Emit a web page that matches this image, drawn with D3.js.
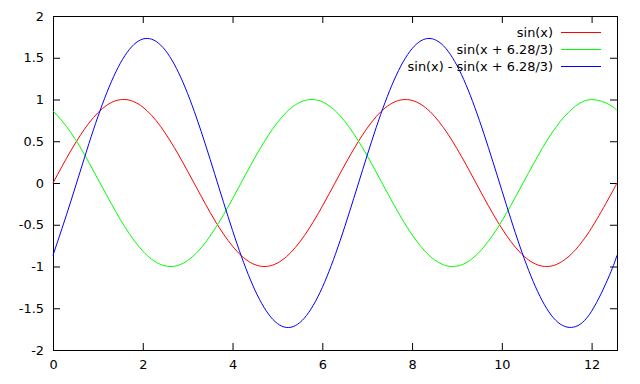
<!DOCTYPE html>
<html>
<head>
<meta charset="utf-8">
<script src="https://cdn.jsdelivr.net/npm/d3@7"></script>
<style>
  body { margin: 0; background: #fff; }
  text { font-family: "DejaVu Sans", sans-serif; font-size: 12.9px; fill: #000; }
</style>
</head>
<body>
<svg id="chart" width="640" height="384"></svg>
<script>
// sample points
const xs = [0, 0.4, 0.8, 1.2, 1.6, 2.0, 2.4, 2.8, 3.2, 3.6, 4.0, 4.4, 4.8, 5.2, 5.6, 6.0,
    6.4, 6.8, 7.2, 7.6, 8.0, 8.4, 8.8, 9.2, 9.6, 10.0, 10.4, 10.8, 11.2, 11.6, 12.0, 12.4, 12.566];
const sinVals = [0, 0.389, 0.717, 0.932, 1.0, 0.909, 0.675, 0.335, -0.058, -0.443, -0.757, -0.952,
    -0.996, -0.883, -0.631, -0.279, 0.117, 0.494, 0.794, 0.968, 0.989, 0.855, 0.585, 0.223,
    -0.175, -0.544, -0.828, -0.981, -0.979, -0.823, -0.537, -0.166, 0];
const shiftVals = [0.866, 0.604, 0.246, -0.151, -0.524, -0.815, -0.976, -0.984, -0.836, -0.556,
    -0.189, 0.209, 0.573, 0.847, 0.987, 0.972, 0.803, 0.507, 0.131, -0.265, -0.620, -0.876,
    -0.995, -0.956, -0.766, -0.456, -0.073, 0.321, 0.665, 0.903, 0.999, 0.937, 0.866];
const diffVals = [-0.866, -0.215, 0.471, 1.083, 1.524, 1.724, 1.651, 1.319, 0.778, 0.113, -0.568,
    -1.161, -1.569, -1.730, -1.618, -1.251, -0.686, -0.013, 0.663, 1.233, 1.609, 1.731, 1.580,
    1.179, 0.591, -0.088, -0.755, -1.302, -1.644, -1.726, -1.536, -1.103, -0.866];

const seriesNames = ["sin(x)", "sin(x + 6.28/3)", "sin(x) - sin(x + 6.28/3)"];
const seriesColors = ["#ff0000", "#00ff00", "#0000ff"];
const xTicks = [0, 2, 4, 6, 8, 10, 12];
const yTicks = [-2, -1.5, -1, -0.5, 0, 0.5, 1, 1.5, 2];

const margin = {left: 53, right: 23, top: 16, bottom: 34};
const width = 640, height = 384;

const svg = d3.select("#chart");

const x = d3.scaleLinear().domain([0, 12.566]).range([margin.left, width - margin.right]);
const y = d3.scaleLinear().domain([-2, 2]).range([height - margin.bottom, margin.top]);

const tick = 7;
const fmt = d => String(d);

// axes, ticks point inward (gnuplot style) and are mirrored
svg.append("g")
    .attr("transform", `translate(0,${height - margin.bottom})`)
    .call(d3.axisBottom(x).tickValues(xTicks).tickFormat(fmt).tickSizeInner(-tick).tickSizeOuter(0).tickPadding(10))
    .call(g => g.select(".domain").remove());
svg.append("g")
    .attr("transform", `translate(0,${margin.top})`)
    .call(d3.axisTop(x).tickValues(xTicks).tickSizeInner(-tick).tickSizeOuter(0).tickFormat(""))
    .call(g => g.select(".domain").remove());
svg.append("g")
    .attr("transform", `translate(${margin.left},0)`)
    .call(d3.axisLeft(y).tickValues(yTicks).tickFormat(fmt).tickSizeInner(-tick).tickSizeOuter(0).tickPadding(9))
    .call(g => g.select(".domain").remove());
svg.append("g")
    .attr("transform", `translate(${width - margin.right},0)`)
    .call(d3.axisRight(y).tickValues(yTicks).tickSizeInner(-tick).tickSizeOuter(0).tickFormat(""))
    .call(g => g.select(".domain").remove());

svg.selectAll(".tick text")
    .attr("font-family", null)
    .attr("font-size", null);

svg.append("rect")
    .attr("x", x(0) + 0.5)
    .attr("y", y(2) + 0.5)
    .attr("width", x(12.566) - x(0))
    .attr("height", y(-2) - y(2))
    .attr("fill", "none")
    .attr("stroke", "#000");

const line = d3.line()
    .x((d, i) => x(xs[i]))
    .y(d => y(d))
    .curve(d3.curveNatural);

const allSeries = [sinVals, shiftVals, diffVals];

svg.selectAll("path.series")
    .data(allSeries)
    .join("path")
    .attr("class", "series")
    .attr("fill", "none")
    .attr("stroke", (d, i) => seriesColors[i])
    .attr("stroke-width", 1)
    .attr("d", line);

// legend
const legend = svg.append("g");
seriesNames.forEach((name, i) => {
    const yy = 32.3 + i * 16.7;
    legend.append("text")
        .attr("x", 553)
        .attr("y", yy)
        .attr("dy", "0.38em")
        .attr("text-anchor", "end")
        .text(name);
    legend.append("line")
        .attr("x1", 561).attr("x2", 601)
        .attr("y1", Math.round(yy) + 0.5).attr("y2", Math.round(yy) + 0.5)
        .attr("stroke", seriesColors[i]);
});
</script>
</body>
</html>
